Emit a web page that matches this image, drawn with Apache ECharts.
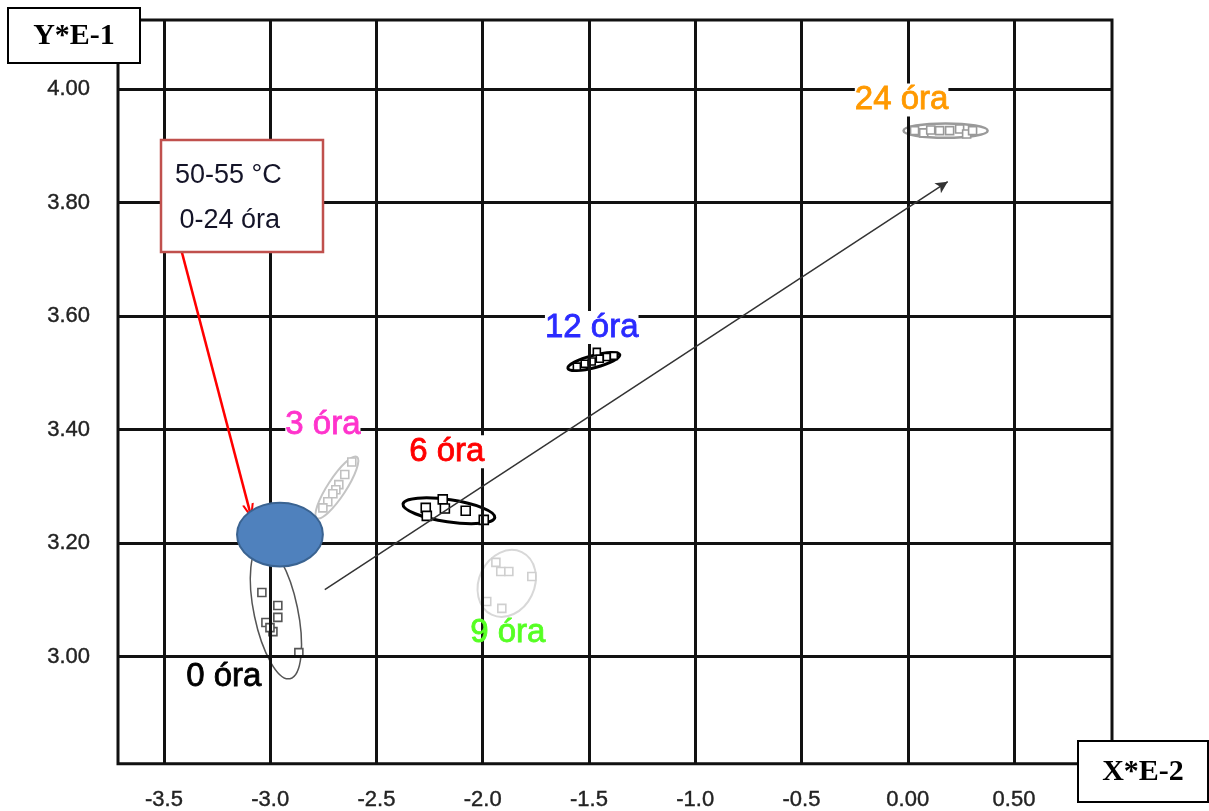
<!DOCTYPE html>
<html>
<head>
<meta charset="utf-8">
<script src="https://cdn.jsdelivr.net/npm/echarts@6/dist/echarts.min.js"></script>
<style>html,body{margin:0;padding:0;background:#fff}#c{width:1209px;height:811px}</style>
</head>
<body>
<div id="c"></div>
<script>
// ---------- data ----------
const xRange = [-3.716, 0.961];
const yRange = [2.811, 4.122];
const xTicks = [-3.5, -3.0, -2.5, -2.0, -1.5, -1.0, -0.5, 0.0, 0.5];
const xTickLabels = ['-3.5', '-3.0', '-2.5', '-2.0', '-1.5', '-1.0', '-0.5', '0.00', '0.50'];
const yTicks = [3.0, 3.2, 3.4, 3.6, 3.8, 4.0];
const yTickLabels = ['3.00', '3.20', '3.40', '3.60', '3.80', '4.00'];

const hour0Points = [[-3.039, 3.113], [-2.964, 3.090], [-2.964, 3.069], [-3.020, 3.060], [-2.987, 3.044], [-3.001, 3.051], [-2.865, 3.007]];
const hour3Points = [[-2.616, 3.343], [-2.649, 3.321], [-2.677, 3.303], [-2.691, 3.294], [-2.705, 3.287], [-2.729, 3.273], [-2.752, 3.262]];
const hour6Points = [[-2.268, 3.262], [-2.263, 3.248], [-2.188, 3.277], [-2.178, 3.261], [-2.080, 3.257], [-1.995, 3.241]];
const hour9Points = [[-1.938, 3.166], [-1.915, 3.150], [-1.877, 3.150], [-1.769, 3.141], [-1.981, 3.097], [-1.910, 3.085]];
const hour12Points = [[-1.557, 3.511], [-1.520, 3.516], [-1.487, 3.520], [-1.463, 3.537], [-1.449, 3.525], [-1.416, 3.528], [-1.383, 3.530]];
const hour24Points = [[0.032, 3.927], [0.075, 3.923], [0.108, 3.928], [0.150, 3.927], [0.197, 3.927], [0.244, 3.930], [0.277, 3.921], [0.305, 3.927]];

// ellipses: [centerX, centerY, majorEndX, majorEndY, minor/major ratio]
const hourEllipses = [
  [-2.973, 3.079, -3.039, 3.197, 0.32],  // 0 óra
  [-2.686, 3.298, -2.592, 3.352, 0.25],  // 3 óra
  [-2.159, 3.257, -1.943, 3.245, 0.24],  // 6 óra
  [-1.887, 3.129, -1.816, 3.184, 0.80],  // 9 óra
  [-1.477, 3.520, -1.355, 3.532, 0.23],  // 12 óra
  [0.178, 3.927, 0.376, 3.927, 0.17]     // 24 óra
];
const startEllipse = [[-2.954, 3.215, -2.752, 3.215, 0.744]];

const hourLabels = ['0 óra', '3 óra', '6 óra', '9 óra', '12 óra', '24 óra'];
const hourLabelPos = [[-3.218, 2.965], [-2.752, 3.409], [-2.169, 3.361], [-1.882, 3.041], [-1.487, 3.580], [-0.029, 3.981]];

const trendArrow = [[-2.743, 3.118], [0.188, 3.837]];
const noteArrow = [[-3.415, 3.712], [-3.095, 3.255]];
const noteLines = ['50-55 °C', ' 0-24 óra'];

// ---------- styles ----------
const labelColors = ['#000000', '#ff33cc', '#ff0000', '#55ff22', '#2a2aff', '#ff9900'];
const labelBg = [null, '#fff', '#fff', null, '#fff', '#fff'];
const ellipseStyles = [
  {stroke: '#555', lineWidth: 1.5, fill: 'none'},
  {stroke: '#c4c4c4', lineWidth: 2, fill: 'none'},
  {stroke: '#000', lineWidth: 3, fill: 'none'},
  {stroke: '#d8d8d8', lineWidth: 2, fill: '#fff'},
  {stroke: '#000', lineWidth: 3, fill: 'none'},
  {stroke: '#9a9a9a', lineWidth: 2.5, fill: 'none'}
];
const pointStyles = [
  {c: '#555', s: 8}, {c: '#c0c0c0', s: 8}, {c: '#000', s: 9},
  {c: '#cfcfcf', s: 8}, {c: '#000', s: 7}, {c: '#999', s: 8}
];
const allPoints = [hour0Points, hour3Points, hour6Points, hour9Points, hour12Points, hour24Points];

function ellipseRender(styles) {
  return function (params, api) {
    const c = api.coord([api.value(0), api.value(1)]);
    const e = api.coord([api.value(2), api.value(3)]);
    const dx = e[0] - c[0], dy = e[1] - c[1];
    const a = Math.hypot(dx, dy);
    const b = a * api.value(4);
    const st = styles[params.dataIndex];
    return {
      type: 'ellipse',
      x: c[0], y: c[1],
      rotation: Math.atan2(-dy, dx),
      shape: {cx: 0, cy: 0, rx: a, ry: b},
      style: {stroke: st.stroke, lineWidth: st.lineWidth, fill: st.fill}
    };
  };
}

const series = [];
// grid lines
series.push({
  type: 'line', data: [], z: 1, silent: true,
  markLine: {
    silent: true, symbol: 'none', animation: false,
    label: {show: false},
    lineStyle: {color: '#111', width: 3, type: 'solid'},
    emphasis: {disabled: true},
    data: xTicks.map(v => ({xAxis: v})).concat(yTicks.map(v => ({yAxis: v})))
  }
});
// hour ellipses
series.push({
  type: 'custom', z: 3, silent: true,
  renderItem: ellipseRender(ellipseStyles),
  data: hourEllipses
});
// points
allPoints.forEach((pts, i) => {
  series.push({
    type: 'scatter', z: 4, silent: true,
    symbol: 'rect', symbolSize: pointStyles[i].s,
    itemStyle: {color: '#fff', borderColor: pointStyles[i].c, borderWidth: 1.6, opacity: 1},
    data: pts
  });
});
// start (blue) ellipse
series.push({
  type: 'custom', z: 5, silent: true,
  renderItem: ellipseRender([{stroke: '#3a6391', lineWidth: 2, fill: '#4f81bd'}]),
  data: startEllipse
});
// labels
series.push({
  type: 'scatter', z: 6, silent: true,
  symbolSize: 0.1, itemStyle: {color: 'transparent', opacity: 1},
  data: hourLabels.map((n, i) => ({
    name: n, value: hourLabelPos[i],
    label: {color: labelColors[i], textBorderColor: labelColors[i], backgroundColor: labelBg[i] || 'transparent'}
  })),
  label: {
    show: true, position: 'inside', formatter: '{b}', opacity: 1,
    textBorderWidth: 0.8,
    fontFamily: 'Liberation Sans, Arial, sans-serif', fontSize: 33, padding: [0, 0]
  }
});
// trend arrow
series.push({
  type: 'line', data: [], z: 7, silent: true,
  markLine: {
    silent: true, animation: false, symbol: ['none', 'arrow'], symbolSize: [9, 12],
    label: {show: false}, emphasis: {disabled: true},
    lineStyle: {color: '#333', width: 1.5, type: 'solid'},
    data: [[{coord: trendArrow[0]}, {coord: trendArrow[1]}]]
  }
});
// note arrow
series.push({
  type: 'line', data: [], z: 7, silent: true,
  markLine: {
    silent: true, animation: false,
    symbol: ['none', 'path://M0,10 L5,0 L10,10 L8.2,10 L5,3.6 L1.8,10 Z'], symbolSize: [12, 16],
    label: {show: false}, emphasis: {disabled: true},
    lineStyle: {color: '#ff0000', width: 2.5, type: 'solid'},
    data: [[{coord: noteArrow[0]}, {coord: noteArrow[1]}]]
  }
});

const axisFont = {fontFamily: 'Liberation Sans, Arial, sans-serif', fontSize: 22, color: '#222', textBorderColor: '#222', textBorderWidth: 0.4};
const option = {
  animation: false,
  backgroundColor: '#fff',
  grid: {left: 118, top: 20, width: 994, height: 744, show: true, borderColor: '#111', borderWidth: 3, backgroundColor: '#fff'},
  xAxis: {
    type: 'value', min: xRange[0], max: xRange[1],
    axisLine: {show: false}, axisTick: {show: false}, splitLine: {show: false},
    axisLabel: Object.assign({
      customValues: xTicks, margin: 25,
      formatter: v => { const i = xTicks.findIndex(t => Math.abs(t - v) < 1e-6); return i < 0 ? '' : xTickLabels[i]; }
    }, axisFont)
  },
  yAxis: {
    type: 'value', min: yRange[0], max: yRange[1],
    axisLine: {show: false}, axisTick: {show: false}, splitLine: {show: false},
    axisLabel: Object.assign({
      customValues: yTicks, margin: 28,
      formatter: v => { const i = yTicks.findIndex(t => Math.abs(t - v) < 1e-6); return i < 0 ? '' : yTickLabels[i]; }
    }, axisFont)
  },
  series: series,
  graphic: [
    {type: 'rect', z: 100, shape: {x: 8, y: 8, width: 132, height: 55}, style: {fill: '#fff', stroke: '#000', lineWidth: 2}},
    {type: 'text', z: 101, x: 74, y: 36, style: {text: 'Y*E-1', fill: '#000', font: 'bold 30px "Liberation Serif", "Times New Roman", serif', align: 'center', verticalAlign: 'middle'}},
    {type: 'rect', z: 100, shape: {x: 1078, y: 741, width: 130, height: 61}, style: {fill: '#fff', stroke: '#000', lineWidth: 2}},
    {type: 'text', z: 101, x: 1143, y: 772, style: {text: 'X*E-2', fill: '#000', font: 'bold 30px "Liberation Serif", "Times New Roman", serif', align: 'center', verticalAlign: 'middle'}},
    {type: 'rect', z: 100, shape: {x: 161, y: 140, width: 162, height: 112}, style: {fill: '#fff', stroke: '#c0504d', lineWidth: 2.5}},
    {type: 'text', z: 101, x: 175, y: 176, style: {text: noteLines[0], fill: '#141428', font: '27px "Liberation Sans", sans-serif', verticalAlign: 'middle'}},
    {type: 'text', z: 101, x: 172, y: 221, style: {text: noteLines[1], fill: '#141428', font: '27px "Liberation Sans", sans-serif', verticalAlign: 'middle'}}
  ]
};
const chart = echarts.init(document.getElementById('c'));
chart.setOption(option);
</script>
</body>
</html>
